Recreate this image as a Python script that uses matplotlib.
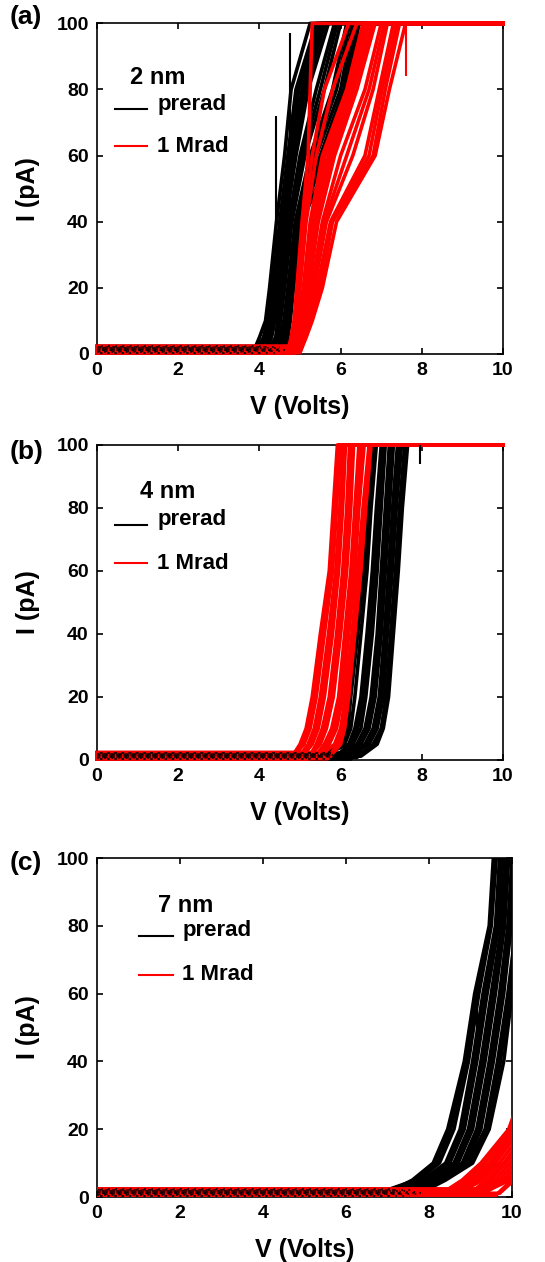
import matplotlib.pyplot as plt

plt.rcParams['font.family'] = ['Liberation Sans', 'DejaVu Sans']
plt.rcParams['font.weight'] = 'bold'

# current levels (pA) reached by each sweep; each row = [onset V, V at 5, 10, 20, 40, 60, 80, 100 pA]
LEVELS = [5, 10, 20, 40, 60, 80, 100]

A_BLACK = [
    [3.85, 4.00, 4.15, 4.25, 4.42, 4.62, 4.78, 5.25],
    [3.95, 4.10, 4.20, 4.32, 4.50, 4.70, 4.90, 5.40],
    [4.00, 4.15, 4.25, 4.36, 4.54, 4.75, 4.97, 5.48],
    [4.05, 4.20, 4.30, 4.40, 4.58, 4.80, 5.05, 5.55],
    [4.10, 4.25, 4.33, 4.44, 4.62, 4.85, 5.12, 5.62],
    [4.15, 4.30, 4.38, 4.48, 4.65, 4.90, 5.20, 5.70],
    [4.25, 4.40, 4.45, 4.55, 4.72, 5.00, 5.40, 5.85],
    [4.30, 4.42, 4.48, 4.58, 4.76, 5.06, 5.50, 5.92],
    [4.35, 4.45, 4.52, 4.62, 4.80, 5.12, 5.60, 6.00],
    [4.45, 4.52, 4.60, 4.70, 4.88, 5.25, 5.80, 6.15],
    [4.48, 4.55, 4.63, 4.73, 4.92, 5.32, 5.90, 6.22],
    [4.50, 4.58, 4.66, 4.76, 4.95, 5.40, 6.00, 6.30],
    [4.58, 4.62, 4.70, 4.78, 4.98, 5.50, 6.08, 6.35],
    [4.60, 4.65, 4.72, 4.80, 5.00, 5.60, 6.15, 6.40],
    [4.65, 4.70, 4.76, 4.84, 5.05, 5.75, 6.22, 6.45],
]
A_RED = [
    [4.70, 4.78, 4.85, 4.92, 5.05, 5.20, 5.25, 5.30],
    [4.72, 4.80, 4.88, 4.96, 5.10, 5.30, 5.60, 6.20],
    [4.75, 4.83, 4.90, 5.00, 5.15, 5.40, 5.80, 6.40],
    [4.80, 4.88, 4.95, 5.08, 5.25, 5.55, 6.15, 6.55],
    [4.82, 4.90, 4.98, 5.12, 5.30, 5.62, 6.20, 6.62],
    [4.85, 4.92, 5.00, 5.15, 5.35, 5.70, 6.25, 6.70],
    [4.88, 4.95, 5.02, 5.18, 5.40, 5.78, 6.32, 6.78],
    [4.90, 4.97, 5.05, 5.22, 5.45, 5.85, 6.40, 6.85],
    [4.93, 5.00, 5.10, 5.28, 5.55, 6.00, 6.60, 7.00],
    [4.95, 5.02, 5.12, 5.32, 5.60, 6.15, 6.70, 7.08],
    [4.96, 5.04, 5.15, 5.35, 5.65, 6.30, 6.80, 7.15],
    [4.98, 5.08, 5.20, 5.42, 5.75, 6.60, 6.95, 7.30],
    [4.99, 5.10, 5.22, 5.46, 5.78, 6.70, 7.02, 7.38],
    [5.00, 5.12, 5.25, 5.50, 5.80, 6.80, 7.10, 7.45],
    [5.02, 5.15, 5.30, 5.55, 5.90, 6.85, 7.20, 7.60],
]
B_BLACK = [
    [5.30, 6.00, 6.10, 6.15, 6.35, 6.50, 6.60, 6.75],
    [5.40, 6.05, 6.18, 6.25, 6.42, 6.58, 6.68, 6.82],
    [5.50, 6.10, 6.25, 6.35, 6.50, 6.65, 6.75, 6.88],
    [5.70, 6.20, 6.35, 6.50, 6.65, 6.78, 6.88, 7.00],
    [5.80, 6.25, 6.42, 6.56, 6.72, 6.84, 6.94, 7.05],
    [5.90, 6.30, 6.50, 6.62, 6.78, 6.90, 7.00, 7.10],
    [6.00, 6.40, 6.60, 6.75, 6.90, 7.00, 7.10, 7.20],
    [6.05, 6.45, 6.65, 6.80, 6.95, 7.05, 7.15, 7.25],
    [6.10, 6.50, 6.70, 6.85, 7.00, 7.10, 7.20, 7.30],
    [6.20, 6.60, 6.80, 6.95, 7.08, 7.18, 7.28, 7.40],
    [6.25, 6.65, 6.85, 7.00, 7.12, 7.22, 7.32, 7.45],
    [6.30, 6.70, 6.90, 7.05, 7.15, 7.27, 7.37, 7.50],
    [6.40, 6.80, 7.00, 7.12, 7.23, 7.35, 7.45, 7.58],
    [6.45, 6.85, 7.02, 7.15, 7.27, 7.38, 7.48, 7.62],
    [6.50, 6.90, 7.05, 7.18, 7.30, 7.42, 7.52, 7.65],
]
B_RED = [
    [4.80, 5.00, 5.15, 5.30, 5.50, 5.72, 5.82, 5.92],
    [4.85, 5.05, 5.20, 5.35, 5.55, 5.76, 5.86, 5.95],
    [4.90, 5.10, 5.25, 5.40, 5.60, 5.80, 5.90, 5.98],
    [5.00, 5.20, 5.35, 5.50, 5.70, 5.88, 5.98, 6.05],
    [5.05, 5.25, 5.40, 5.55, 5.75, 5.92, 6.02, 6.08],
    [5.10, 5.30, 5.45, 5.60, 5.80, 5.95, 6.05, 6.12],
    [5.20, 5.40, 5.55, 5.72, 5.90, 6.05, 6.15, 6.22],
    [5.25, 5.45, 5.60, 5.77, 5.95, 6.10, 6.20, 6.27],
    [5.30, 5.50, 5.65, 5.82, 6.00, 6.15, 6.25, 6.32],
    [5.40, 5.60, 5.78, 5.95, 6.10, 6.25, 6.35, 6.45],
    [5.45, 5.66, 5.84, 6.00, 6.15, 6.30, 6.40, 6.52],
    [5.50, 5.72, 5.90, 6.05, 6.20, 6.35, 6.45, 6.58],
    [5.60, 5.85, 6.00, 6.12, 6.28, 6.42, 6.55, 6.70],
    [5.68, 5.92, 6.05, 6.16, 6.32, 6.46, 6.58, 6.72],
    [5.75, 6.00, 6.10, 6.20, 6.35, 6.50, 6.62, 6.75],
]
C_BLACK = [
    [6.90, 7.60, 8.10, 8.45, 8.85, 9.10, 9.45, 9.55],
    [6.95, 7.68, 8.18, 8.52, 8.90, 9.15, 9.48, 9.58],
    [7.00, 7.75, 8.25, 8.60, 8.95, 9.20, 9.50, 9.62],
    [7.10, 7.85, 8.40, 8.75, 9.05, 9.30, 9.60, 9.70],
    [7.15, 7.90, 8.45, 8.80, 9.10, 9.35, 9.64, 9.74],
    [7.20, 7.95, 8.50, 8.85, 9.15, 9.40, 9.68, 9.78],
    [7.30, 8.00, 8.60, 8.95, 9.25, 9.50, 9.75, 9.85],
    [7.35, 8.02, 8.65, 9.00, 9.30, 9.55, 9.78, 9.88],
    [7.40, 8.05, 8.70, 9.05, 9.35, 9.60, 9.82, 9.92],
    [7.50, 8.10, 8.80, 9.15, 9.45, 9.70, 9.90, 10.00],
    [7.55, 8.15, 8.85, 9.20, 9.50, 9.75, 9.94, 10.05],
    [7.60, 8.20, 8.90, 9.25, 9.55, 9.80, 9.98, 10.10],
    [7.70, 8.30, 8.95, 9.35, 9.65, 9.90, 10.10, 10.20],
    [7.75, 8.35, 9.00, 9.40, 9.72, 9.95, 10.15, 10.25],
    [7.80, 8.40, 9.05, 9.45, 9.80, 10.00, 10.20, 10.30],
]
C_RED = [
    [8.30, 8.80, 9.25, 9.92, 10.50, 11.0, 11.5, 12.0],
    [8.40, 8.90, 9.35, 9.98, 10.55, 11.0, 11.5, 12.0],
    [8.50, 9.00, 9.45, 10.05, 10.60, 11.0, 11.5, 12.0],
    [8.60, 9.10, 9.52, 10.10, 10.70, 11.1, 11.5, 12.0],
    [8.70, 9.20, 9.60, 10.20, 10.80, 11.2, 11.6, 12.0],
    [8.80, 9.30, 9.70, 10.30, 10.90, 11.3, 11.7, 12.0],
    [8.90, 9.40, 9.80, 10.40, 11.00, 11.4, 11.8, 12.0],
    [9.00, 9.50, 9.85, 10.50, 11.10, 11.5, 11.8, 12.0],
    [9.10, 9.60, 9.95, 10.60, 11.20, 11.6, 11.9, 12.0],
    [9.20, 9.70, 10.05, 10.70, 11.30, 11.7, 11.9, 12.1],
    [9.30, 9.80, 10.15, 10.80, 11.40, 11.8, 12.0, 12.2],
    [9.40, 9.88, 10.30, 10.90, 11.50, 11.9, 12.1, 12.3],
    [9.50, 9.95, 10.40, 11.00, 11.60, 12.0, 12.2, 12.4],
    [9.60, 10.00, 10.50, 11.10, 11.70, 12.1, 12.3, 12.5],
    [9.70, 10.05, 10.60, 11.20, 11.80, 12.2, 12.4, 12.6],
]

# noise-floor level of each sweep (pA)
BASE_BLACK = [0.6, 1.9, 1.1, 2.3, 0.4, 1.5, 2.0, 0.9, 1.3, 1.7, 0.3, 2.2, 0.8, 1.6, 1.2]
BASE_RED = [1.0, 0.5, 2.1, 1.4, 0.8, 1.8, 0.3, 1.2, 2.2, 1.6, 0.7, 1.9, 2.4, 0.4, 1.1]

# isolated spikes: (V, I low, I high, colour)
A_SPIKES = [(4.40, 20, 72, 'black'), (4.75, 30, 97, 'black'), (7.60, 84, 100, 'red')]
B_SPIKES = [(7.95, 94, 100, 'black')]
C_SPIKES = [(9.15, 40, 58, 'black')]

PANELS = [
    ('(a)', '2 nm', A_BLACK, A_RED, A_SPIKES, True),
    ('(b)', '4 nm', B_BLACK, B_RED, B_SPIKES, True),
    ('(c)', '7 nm', C_BLACK, C_RED, C_SPIKES, False),
]

# axes rectangles in figure fraction
RECTS = [
    [0.178, 0.7195, 0.745, 0.262],
    [0.178, 0.3978, 0.745, 0.2496],
    [0.178, 0.0515, 0.7615, 0.2686],
]
PANEL_Y = [0.9865, 0.642, 0.316]
NM_POS = [(0.081, 0.837), (0.106, 0.852), (0.147, 0.861)]
LEG_X = [(0.044, 0.123, 0.148), (0.044, 0.123, 0.148), (0.101, 0.183, 0.205)]
LEG_Y = [(0.755, 0.628), (0.762, 0.624), (0.786, 0.655)]

RED = '#ff0000'
LW = 2.6


def sweep_xy(row, base, tail):
    v = [0, row[0]] + row[1:]
    i = [base, base] + LEVELS
    if tail:
        v = v + [10]
        i = i + [100]
    return v, i


fig = plt.figure(figsize=(5.45, 12.62), dpi=100)

for k, (tag, nm, blk, red, spikes, tail) in enumerate(PANELS):
    ax = fig.add_axes(RECTS[k])
    clip = not tail
    for row, b in zip(blk, BASE_BLACK):
        v, i = sweep_xy(row, b, tail)
        ax.plot(v, i, color='black', lw=LW, clip_on=clip, zorder=3)
    for row, b in zip(red, BASE_RED):
        v, i = sweep_xy(row, b, tail)
        ax.plot(v, i, color=RED, lw=LW, clip_on=clip, zorder=3)
    # black noise floor speckled through the red one
    for n, (row, b) in enumerate(zip(blk, BASE_BLACK)):
        ax.plot([0, row[0]], [b, b], color='black', lw=1.1,
                ls=(n * 0.7, (1.2, 3.5)), clip_on=clip, zorder=3.5)
    for v, lo, hi, c in spikes:
        ax.vlines(v, lo, hi, color=RED if c == 'red' else 'black', lw=1.5, zorder=3)

    ax.set_xlim(0, 10)
    ax.set_ylim(0, 100)
    ax.set_xticks(range(0, 11, 2))
    ax.set_yticks(range(0, 101, 20))
    ax.tick_params(direction='in', top=True, right=True, length=4, width=1.2,
                   labelsize=14, pad=6)
    for s in ax.spines.values():
        s.set_linewidth(1.2)
        s.set_zorder(2.5)
    for lab in ax.get_xticklabels() + ax.get_yticklabels():
        lab.set_fontweight('bold')
    ax.set_xlabel('V (Volts)', fontsize=18, fontweight='bold', labelpad=11)
    ax.set_ylabel('I (pA)', fontsize=18, fontweight='bold', labelpad=12)

    # in-plot legend
    ax.text(NM_POS[k][0], NM_POS[k][1], nm, transform=ax.transAxes,
            fontsize=17, fontweight='bold', va='center', ha='left')
    x0, x1, xt = LEG_X[k]
    y_pre, y_rad = LEG_Y[k]
    ax.plot([x0, x1], [y_pre - 0.015, y_pre - 0.015], color='black', lw=1.5,
            transform=ax.transAxes)
    ax.text(xt, y_pre, 'prerad', transform=ax.transAxes, fontsize=16,
            fontweight='bold', va='center', ha='left')
    ax.plot([x0, x1], [y_rad, y_rad], color=RED, lw=1.5,
            transform=ax.transAxes)
    ax.text(xt, y_rad, '1 Mrad', transform=ax.transAxes, fontsize=16,
            fontweight='bold', va='center', ha='left')

    fig.text(0.018, PANEL_Y[k], tag, fontsize=19, fontweight='bold', va='center')

plt.savefig('out.png', dpi=100)
